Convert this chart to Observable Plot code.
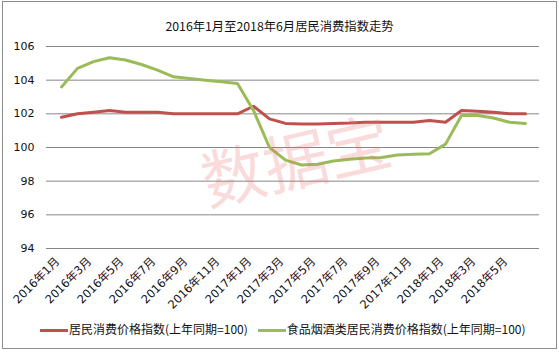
<!DOCTYPE html>
<html><head><meta charset="utf-8">
<script src="https://cdn.jsdelivr.net/npm/d3@7"></script>
<script src="https://cdn.jsdelivr.net/npm/@observablehq/plot@0.6"></script>
<style>
body{margin:0;background:#fff;}
#wrap{position:relative;width:559px;height:352px;overflow:hidden;font-family:"Noto Sans CJK SC","DejaVu Sans",sans-serif;}
#frame{position:absolute;left:2px;top:1px;width:553px;height:346px;border:1px solid #8c8c8c;}
#title{position:absolute;left:0;top:17px;width:559px;text-align:center;font-size:12.3px;line-height:18px;color:#111;}
#chart{position:absolute;left:0;top:0;}
#wm{position:absolute;left:185px;top:124px;width:220px;text-align:center;font-size:64px;line-height:66px;color:rgba(235,110,110,0.25);transform:rotate(-13deg);transform-origin:center;white-space:nowrap;pointer-events:none;letter-spacing:0px;}
#legend{position:absolute;top:320px;left:40px;font-size:12px;line-height:18px;color:#111;white-space:nowrap;}
.sw{display:inline-block;width:28px;height:3px;vertical-align:middle;margin-right:1px;}
.item{display:inline-block;margin-right:10px;}
</style></head>
<body>
<div id="wrap">
  <div id="frame"></div>
  <div id="chart"></div>
  <div id="wm">数据宝</div>
  <div id="title"></div>
  <div id="legend"></div>
</div>
<script>
const titleText = "2016年1月至2018年6月居民消费指数走势";
const months = [];
for (const y of [2016, 2017, 2018]) for (let m = 1; m <= 12; m++) { if (y === 2018 && m > 6) break; months.push(`${y}年${m}月`); }
const seriesNames = ["居民消费价格指数(上年同期=100)", "食品烟酒类居民消费价格指数(上年同期=100)"];
const seriesColors = ["#C0504D", "#9BBB59"];
const cpi = [101.8, 102.0, 102.1, 102.2, 102.1, 102.1, 102.1, 102.0, 102.0, 102.0, 102.0, 102.0,
             102.45, 101.7, 101.43, 101.4, 101.4, 101.43, 101.45, 101.5, 101.5, 101.5, 101.5, 101.6,
             101.5, 102.2, 102.15, 102.1, 102.0, 102.0];
const food = [103.6, 104.7, 105.1, 105.33, 105.2, 104.93, 104.6, 104.2, 104.1, 104.0, 103.9, 103.8,
              102.2, 100.0, 99.25, 98.96, 99.0, 99.2, 99.3, 99.37, 99.4, 99.55, 99.6, 99.63,
              100.2, 101.9, 101.9, 101.75, 101.5, 101.43];
const yTicks = [94, 96, 98, 100, 102, 104, 106];
const xTicks = months.filter((d, i) => i % 2 === 0);

const rows = [];
months.forEach((m, i) => {
  rows.push({month: m, value: cpi[i], series: seriesNames[0]});
  rows.push({month: m, value: food[i], series: seriesNames[1]});
});

document.getElementById("title").textContent = titleText;

const chart = Plot.plot({
  width: 559,
  height: 330,
  marginTop: 46,
  marginBottom: 82,
  marginLeft: 46,
  marginRight: 20,
  style: {fontFamily: "'DejaVu Sans', 'Noto Sans CJK SC', sans-serif", fontSize: "11px", color: "#111", background: "transparent"},
  x: {type: "point", domain: months, padding: 0.5, label: null},
  y: {domain: [94, 106], label: null},
  color: {domain: seriesNames, range: seriesColors},
  marks: [
    Plot.gridY(yTicks, {stroke: "#868686", strokeOpacity: 1, strokeWidth: 1}),
    Plot.axisY(yTicks, {tickSize: 0, tickPadding: 12, label: null, fontSize: 11}),
    Plot.axisX(xTicks, {tickSize: 0, tickPadding: 11, dx: -4, tickRotate: -45, label: null, fontSize: 11.5, fontFamily: "'DejaVu Sans', 'Noto Sans CJK SC', sans-serif"}),
    Plot.lineY(rows, {x: "month", y: "value", z: "series", stroke: "series", strokeWidth: 3, curve: "linear"})
  ]
});
document.getElementById("chart").appendChild(chart);

const legend = document.getElementById("legend");
seriesNames.forEach((name, i) => {
  const item = document.createElement("span");
  item.className = "item";
  const sw = document.createElement("span");
  sw.className = "sw";
  sw.style.background = seriesColors[i];
  item.appendChild(sw);
  item.appendChild(document.createTextNode(name));
  legend.appendChild(item);
});
</script>
</body></html>
